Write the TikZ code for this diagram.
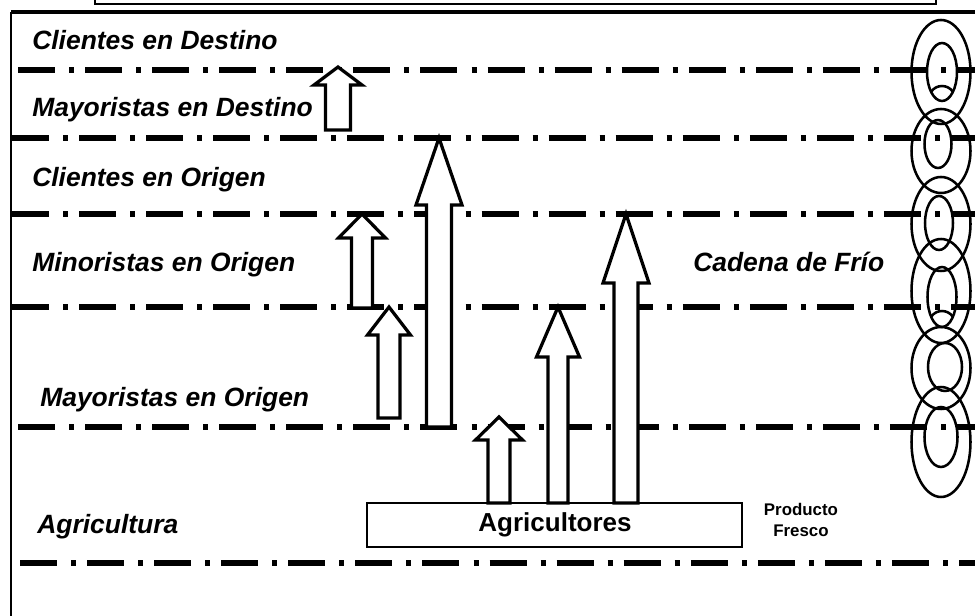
\documentclass[tikz,border=0pt]{standalone}
\usepackage{fontspec}
\setmainfont{Liberation Sans}
\usetikzlibrary{positioning}

\tikzset{
    nivel/.style={font=\fontsize{18.8}{21}\selectfont\bfseries\itshape, anchor=base west, inner sep=0pt},
    tierline/.style={line width=3.8pt, dash pattern=on 26.3pt off 10pt on 3.6pt off 7.8pt},
    flecha/.style={draw, fill=white, line width=2.3pt, line join=miter},
    eslabon/.style={line width=1.8pt},
}

\begin{document}
\begin{tikzpicture}[x=0.025cm, y=-0.025cm]
    \useasboundingbox (0,0) rectangle (975,616);
    \clip (0,0) rectangle (975,616);

    % frame
    \draw[line width=1.4pt] (95,-20) rectangle (936,4);
    \draw[line width=2.8pt] (11,12) -- (990,12);
    \draw[line width=1.4pt] (11,12) -- (11,630);

    % level separators
    \foreach \xs/\y in {18/70, 12/138, 12/214, 12/307, 18/427} {
        \draw[tierline] (\xs,\y) -- (985,\y);
    }
    \draw[tierline, line width=4.8pt] (20,563) -- (985,563);

    % level names
    \node[nivel] (cliDest) at (32,50) {Clientes en Destino};
    \node[nivel] (mayDest) at (32,117) {Mayoristas en Destino};
    \node[nivel] (cliOrig) at (32,187) {Clientes en Origen};
    \node[nivel] (minOrig) at (32,272) {Minoristas en Origen};
    \node[nivel] (mayOrig) at (40,407) {Mayoristas en Origen};
    \node[nivel] (agri) at (37,533) {Agricultura};
    \node[nivel] (cadena) at (693,272) {Cadena de Frío};

    % farmers box
    \draw[line width=2.1pt, fill=white] (367,503) rectangle (742,547);
    \node[font=\fontsize{18.5}{20}\selectfont\bfseries, inner sep=0pt] (agricultores) at (555,525) {Agricultores};
    \node[font=\fontsize{12}{15}\selectfont\bfseries, align=center, inner sep=0pt] (fresco) at (801,520) {Producto\\Fresco};

    % product flows
    \foreach \cx/\yb/\yt/\sw/\hw/\hl in {338/130/67/12.5/24/18, 439/427/138/12.5/23/67, 362/308/214/10.5/23.5/24,
                                       389/418/307/11/21.5/28, 499/503/417/11/23.5/23, 558/503/307/10/21.5/50,
                                       626/503/214/12/23/69} {
        \draw[flecha] (\cx-\sw,\yb) -- (\cx-\sw,\yt+\hl) -- (\cx-\hw,\yt+\hl) -- (\cx,\yt)
            -- (\cx+\hw,\yt+\hl) -- (\cx+\sw,\yt+\hl) -- (\cx+\sw,\yb) -- cycle;
    }

    % cold chain links
    \foreach \cy/\ry/\ix/\iy/\irx/\iry in {72/52/942/72/15/29, 151/42/938/144/13.5/24, 224/47/939/223/14/27,
                                          291/52/942/297/14.5/30, 368/41/945/367/17/24, 442/55/941/437/16.5/30} {
        \draw[eslabon] (941,\cy) ellipse [x radius=29.5, y radius=\ry];
        \draw[eslabon] (\ix,\iy) ellipse [x radius=\irx, y radius=\iry];
    }
    \draw[eslabon] (931,92) .. controls (936,84) and (948,84) .. (953,92);
    \draw[eslabon] (931,317) .. controls (936,309) and (948,309) .. (953,317);
\end{tikzpicture}
\end{document}
